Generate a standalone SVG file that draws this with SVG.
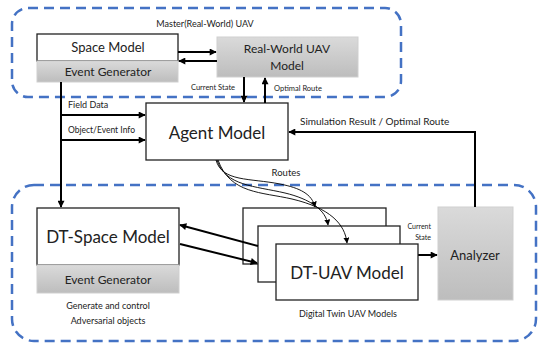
<svg xmlns="http://www.w3.org/2000/svg" width="540" height="343" viewBox="0 0 540 343">
<defs>
<linearGradient id="gray" x1="0" y1="0" x2="0" y2="1">
<stop offset="0" stop-color="#dadada"/>
<stop offset="1" stop-color="#bdbdbd"/>
</linearGradient>
<marker id="ah" viewBox="0 0 10 10" refX="9" refY="5" markerWidth="8" markerHeight="7" markerUnits="userSpaceOnUse" orient="auto">
<path d="M0,0 L10,5 L0,10 z" fill="#000"/>
</marker>
<marker id="ahs" viewBox="0 0 10 10" refX="9" refY="5" markerWidth="6" markerHeight="6" markerUnits="userSpaceOnUse" orient="auto">
<path d="M0,0 L10,5 L0,10 z" fill="#000"/>
</marker>
</defs>
<style>
text{font-family:Lato,"Open Sans","Liberation Sans",sans-serif;fill:#222;text-anchor:middle}
.group{fill:none;stroke:#4472c4;stroke-width:2.5;stroke-dasharray:10 6}
.box{fill:#fff;stroke:#222;stroke-width:1.3}
.gbox{fill:url(#gray);stroke:#cfcfcf;stroke-width:1}
.c{fill:none;stroke:#000;stroke-width:2;marker-end:url(#ah)}
.cl{fill:none;stroke:#000;stroke-width:2}
.r{fill:none;stroke:#000;stroke-width:0.9;marker-end:url(#ahs)}
</style>
<g id="master-group">
<rect class="group" x="12" y="8" width="389" height="89" rx="16"/>
<text x="205" y="27" font-size="9">Master(Real-World) UAV</text>
</g>
<g id="dt-group">
<rect class="group" x="12" y="185" width="524" height="156" rx="22"/>
</g>
<g id="space-model">
<rect class="box" x="37" y="34" width="141" height="27"/>
<text x="108" y="52" font-size="13">Space Model</text>
<rect class="gbox" x="37" y="61" width="141" height="21"/>
<text x="108" y="76" font-size="12">Event Generator</text>
</g>
<g id="real-world-uav">
<rect class="gbox" x="217" y="37" width="141" height="40"/>
<text x="287" y="53" font-size="12">Real-World UAV</text>
<text x="287" y="70" font-size="12">Model</text>
</g>
<g id="agent-model">
<rect class="box" x="146" y="103" width="142" height="57"/>
<text x="217" y="139" font-size="17">Agent Model</text>
</g>
<g id="dt-space-model">
<rect class="box" x="37" y="208" width="142" height="57"/>
<text x="108" y="243" font-size="17">DT-Space Model</text>
<rect class="gbox" x="37" y="265" width="142" height="28"/>
<text x="108" y="284" font-size="12">Event Generator</text>
<text x="108" y="309" font-size="9">Generate and control</text>
<text x="108" y="324" font-size="9">Adversarial objects</text>
</g>
<g id="analyzer">
<rect class="gbox" x="438" y="207" width="75" height="93"/>
<text x="475" y="260" font-size="13">Analyzer</text>
</g>
<g id="connectors">
<line class="c" x1="178" y1="52" x2="216" y2="52"/>
<line class="c" x1="217" y1="61" x2="179" y2="61"/>
<line class="c" x1="244" y1="77" x2="244" y2="102"/>
<line class="c" x1="265" y1="103" x2="265" y2="78"/>
<line class="c" x1="61" y1="82" x2="61" y2="207"/>
<line class="c" x1="61" y1="115" x2="145" y2="115"/>
<line class="c" x1="61" y1="140" x2="145" y2="140"/>
<polyline class="c" points="475,207 475,132 289,132"/>
<line class="c" x1="418" y1="255" x2="437" y2="255"/>
</g>
<g id="dt-uav-1">
<rect class="box" x="243" y="208" width="143" height="56"/>
</g>
<g id="dt-uav-2">
<rect class="box" x="258" y="226" width="142" height="56"/>
</g>
<g id="dt-space-links">
<line class="c" x1="258" y1="246" x2="180" y2="225"/>
<line class="c" x1="180" y1="244" x2="257" y2="263"/>
</g>
<g id="dt-uav-3">
<rect class="box" x="276" y="244" width="142" height="56"/>
<text x="347" y="279" font-size="17">DT-UAV Model</text>
<text x="348" y="317" font-size="9">Digital Twin UAV Models</text>
</g>
<g id="routes">
<path class="r" d="M216,160 C222,182 250,178 280,184 C300,188 312,194 315,207"/>
<path class="r" d="M217,160 C225,186 255,186 285,193 C310,199 326,210 328,225"/>
<path class="r" d="M218,160 C230,194 262,192 292,199 C330,208 345,224 347,243"/>
<text x="286" y="176" font-size="9.5">Routes</text>
</g>
<g id="labels">
<text x="213" y="90" font-size="7.5">Current State</text>
<text x="298" y="91" font-size="7.5">Optimal Route</text>
<text x="68" y="108" font-size="9" style="text-anchor:start">Field Data</text>
<text x="68" y="133" font-size="8.5" style="text-anchor:start">Object/Event Info</text>
<text x="300" y="125" font-size="10" style="text-anchor:start">Simulation Result / Optimal Route</text>
<text x="431" y="229" font-size="7" style="text-anchor:end">Current</text>
<text x="431" y="240" font-size="7" style="text-anchor:end">State</text>
</g>
</svg>
